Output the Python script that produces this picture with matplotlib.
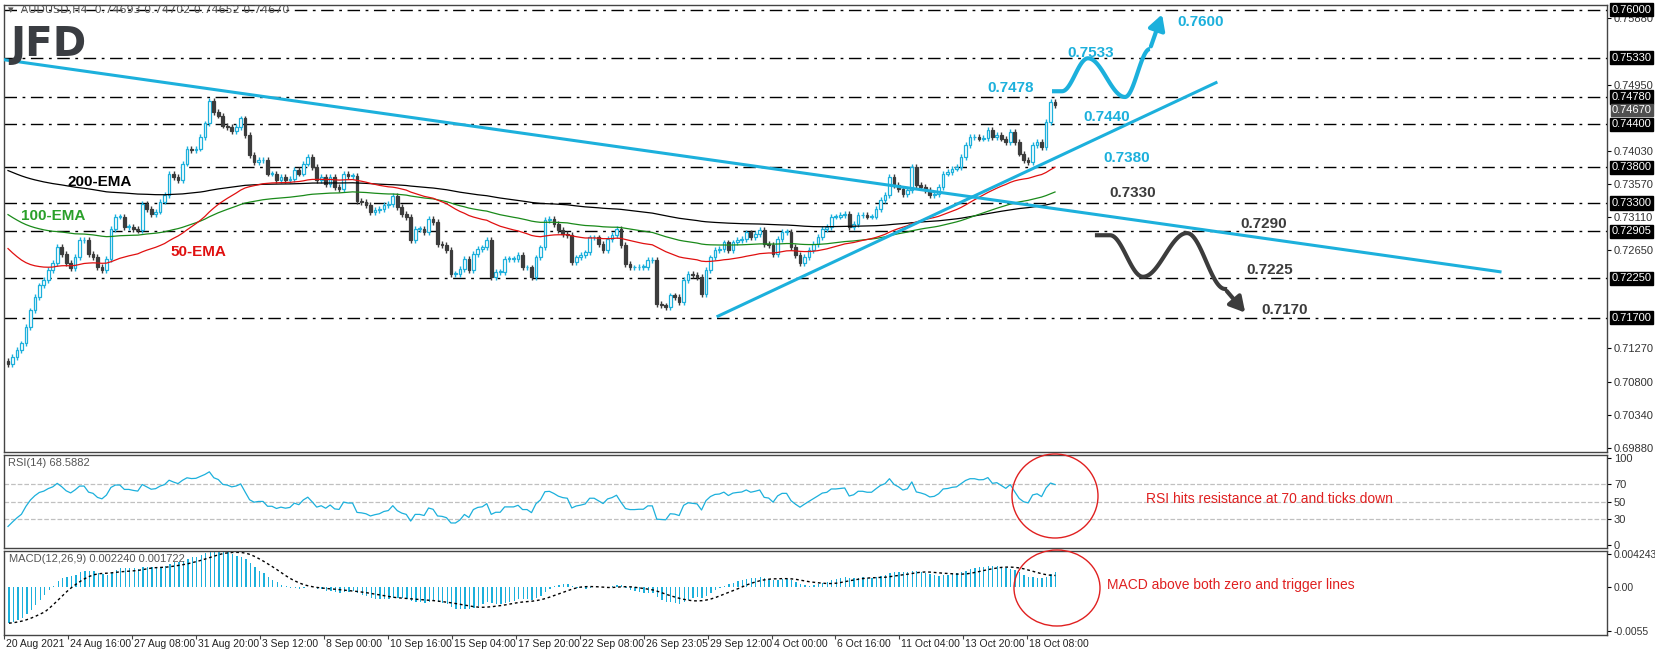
import numpy as np
import pandas as pd
import matplotlib
matplotlib.use('Agg')
import matplotlib.pyplot as plt
from matplotlib.patches import Ellipse, FancyArrowPatch

plt.rcParams['font.family'] = ['Liberation Sans', 'DejaVu Sans']

# H4 closes left to right
closes = [
    0.7105, 0.7115, 0.7125, 0.7134, 0.7157, 0.7180, 0.7199, 0.7215, 0.7222, 0.7236,
    0.7246, 0.7269, 0.7259, 0.7246, 0.7239, 0.7255, 0.7278, 0.7278, 0.7259, 0.7255,
    0.7241, 0.7236, 0.7252, 0.7294, 0.7311, 0.7311, 0.7297, 0.7297, 0.7294, 0.7292,
    0.7329, 0.7322, 0.7315, 0.7318, 0.7332, 0.7341, 0.7371, 0.7366, 0.7362, 0.7385,
    0.7406, 0.7404, 0.7406, 0.7422, 0.7441, 0.7473, 0.7457, 0.7452, 0.7438, 0.7436,
    0.7431, 0.7436, 0.7448, 0.7425, 0.7397, 0.7387, 0.7390, 0.7390, 0.7371, 0.7371,
    0.7362, 0.7366, 0.7362, 0.7364, 0.7376, 0.7371, 0.7385, 0.7394, 0.7380, 0.7362,
    0.7366,
    0.7357, 0.7366, 0.7352, 0.7350, 0.7371, 0.7368, 0.7368, 0.7333, 0.7331, 0.7327,
    0.7317, 0.7320, 0.7322, 0.7327, 0.7329, 0.7340, 0.7324, 0.7315, 0.7310, 0.7278,
    0.7294, 0.7294, 0.7289, 0.7308, 0.7303, 0.7273, 0.7271, 0.7264, 0.7231, 0.7231,
    0.7238, 0.7252, 0.7236, 0.7259, 0.7266, 0.7268, 0.7278, 0.7227, 0.7234, 0.7234,
    0.7252, 0.7252, 0.7252, 0.7257, 0.7240, 0.7240, 0.7227, 0.7254, 0.7268, 0.7306,
    0.7308, 0.7301, 0.7292, 0.7287, 0.7285, 0.7247, 0.7254, 0.7257, 0.7261, 0.7282,
    0.7282, 0.7273, 0.7264, 0.7280, 0.7285, 0.7294, 0.7271, 0.7245, 0.7240, 0.7240,
    0.7241, 0.7241, 0.7250, 0.7250, 0.7189, 0.7187, 0.7185, 0.7201, 0.7199, 0.7192,
    0.7222, 0.7231, 0.7229, 0.7227, 0.7203, 0.7236, 0.7254, 0.7264, 0.7266, 0.7275,
    0.7264, 0.7275, 0.7278, 0.7280, 0.7289,
    0.7283, 0.7287, 0.7292, 0.7273, 0.7271, 0.7259, 0.7280, 0.7290, 0.7290, 0.7269,
    0.7257, 0.7246, 0.7255, 0.7264, 0.7273, 0.7283, 0.7294, 0.7297, 0.7311, 0.7311,
    0.7313, 0.7315, 0.7297, 0.7301, 0.7313, 0.7313, 0.7311, 0.7311, 0.7322, 0.7334,
    0.7341, 0.7366, 0.7355, 0.7350, 0.7343, 0.7348, 0.7380, 0.7355, 0.7352, 0.7348,
    0.7341, 0.7343, 0.7352, 0.7371, 0.7373, 0.7378, 0.7380, 0.7394, 0.7411, 0.7422,
    0.7422, 0.7420, 0.7421, 0.7432, 0.7422, 0.7425, 0.7420, 0.7415, 0.7429, 0.7415,
    0.7399, 0.7390, 0.7387, 0.7411, 0.7415, 0.7408, 0.7443, 0.7471, 0.7467,
]
first_open = 0.7110

# indicator starting values read at the left edge
ema_seeds = {50: 0.7273, 100: 0.7318, 200: 0.7378}
macd_seeds = {12: 0.7148, 26: 0.7193}
rsi_seed_gain, rsi_seed_loss = 0.00025, 0.0009

date_labels = ['20 Aug 2021', '24 Aug 16:00', '27 Aug 08:00', '31 Aug 20:00', '3 Sep 12:00',
               '8 Sep 00:00', '10 Sep 16:00', '15 Sep 04:00', '17 Sep 20:00', '22 Sep 08:00',
               '26 Sep 23:05', '29 Sep 12:00', '4 Oct 00:00', '6 Oct 16:00', '11 Oct 04:00',
               '13 Oct 20:00', '18 Oct 08:00']

levels = [0.7600, 0.7533, 0.7478, 0.7440, 0.7380, 0.7330, 0.72905, 0.7225, 0.7170]
level_boxes = ['0.76000', '0.75330', '0.74780', '0.74400', '0.73800', '0.73300', '0.72905', '0.72250', '0.71700']
price_ticks = [0.7588, 0.7495, 0.7403, 0.7357, 0.7311, 0.7265,
               0.7127, 0.7080, 0.7034, 0.6988]

BLUE = '#1cb0dc'
DARK = '#3c3c3c'
W, H = 1655, 656


def ema(values, n, seed):
    a = 2.0 / (n + 1)
    out, e = [], seed
    for v in values:
        e = e + a * (v - e)
        out.append(e)
    return np.array(out)


c = np.array(closes)
o = np.concatenate([[first_open], c[:-1]])
hi = np.maximum(o, c) + 0.0004
lo = np.minimum(o, c) - 0.0004
n = len(c)

# x axis in screen pixels: first bar at 8, last bar at 1055
x = np.linspace(8, 1055, n)
bw = (x[1] - x[0]) * 0.6

ema50 = ema(c, 50, ema_seeds[50])
ema100 = ema(c, 100, ema_seeds[100])
ema200 = ema(c, 200, ema_seeds[200])

# Wilder RSI(14)
diff = np.diff(np.concatenate([[first_open], c]))
g, l, rsi = rsi_seed_gain, rsi_seed_loss, []
for d in diff:
    g = (g * 13 + max(d, 0)) / 14
    l = (l * 13 + max(-d, 0)) / 14
    rsi.append(100 - 100 / (1 + g / l))
rsi = np.array(rsi)

macd = ema(c, 12, macd_seeds[12]) - ema(c, 26, macd_seeds[26])
signal = pd.Series(macd).rolling(9, min_periods=1).mean().values

fig = plt.figure(figsize=(W / 100, H / 100), dpi=100)


def axes_px(top, bottom):
    return fig.add_axes([4 / W, 1 - bottom / H, (1607 - 4) / W, (bottom - top) / H])


ax = axes_px(5, 452)
ax_rsi = axes_px(455, 548)
ax_macd = axes_px(551, 635)

for a in (ax, ax_rsi, ax_macd):
    a.set_xlim(4, 1607)
    a.yaxis.tick_right()
    a.tick_params(axis='y', labelsize=8, labelcolor='#333333', length=3, pad=2)
    a.tick_params(axis='x', length=0, labelbottom=False)
    for s in a.spines.values():
        s.set_color('#444444')
        s.set_linewidth(1)

# --- price panel
ax.set_ylim(0.69824, 0.76064)
for lv in levels:
    ax.axhline(lv, color='black', lw=1, dashes=(9, 4, 2, 4))

up = c >= o
ax.vlines(x[up], lo[up], hi[up], color=BLUE, lw=1)
ax.vlines(x[~up], lo[~up], hi[~up], color=DARK, lw=1)
body = np.maximum(np.abs(c - o), 0.00006)
ax.bar(x[up], body[up], bw, bottom=np.minimum(o, c)[up], facecolor='white', edgecolor=BLUE, lw=0.9, zorder=3)
ax.bar(x[~up], body[~up], bw, bottom=np.minimum(o, c)[~up], facecolor=DARK, edgecolor=DARK, lw=0.9, zorder=3)

ax.plot(x, ema200, color='black', lw=0.9, zorder=4)
ax.plot(x, ema100, color='#1a8a1a', lw=0.9, zorder=4)
ax.plot(x, ema50, color='#e01010', lw=0.9, zorder=4)

# trendlines
ax.plot([4, 1500], [0.7530, 0.7234], color=BLUE, lw=2.2, zorder=5)
ax.plot([718, 1216], [0.7172, 0.7498], color=BLUE, lw=2.2, zorder=5)


# scenario waves
def wave(x0, x1, y0, y1, steps=40):
    t = np.linspace(0, 1, steps)
    return x0 + (x1 - x0) * t, y0 + (y1 - y0) * (1 - np.cos(np.pi * t)) / 2


xs, ys = [1052, 1062], [0.7486, 0.7486]
for (a0, a1, b0, b1) in [(1062, 1088, 0.7486, 0.7532), (1088, 1125, 0.7532, 0.7478), (1125, 1150, 0.7478, 0.7545)]:
    wx, wy = wave(a0, a1, b0, b1)
    xs += list(wx); ys += list(wy)
ax.plot(xs, ys, color=BLUE, lw=3, zorder=6, solid_capstyle='butt')
ax.add_patch(FancyArrowPatch((1150, 0.7545), (1163, 0.7597), arrowstyle='-|>,head_length=9,head_width=5',
                             color=BLUE, lw=3, zorder=6))

xs, ys = [1097, 1110], [0.7285, 0.7285]
for (a0, a1, b0, b1) in [(1110, 1143, 0.7285, 0.7227), (1143, 1187, 0.7227, 0.7288), (1187, 1225, 0.7288, 0.7210)]:
    wx, wy = wave(a0, a1, b0, b1)
    xs += list(wx); ys += list(wy)
ax.plot(xs, ys, color=DARK, lw=3, zorder=6)
ax.add_patch(FancyArrowPatch((1225, 0.7210), (1247, 0.7174), arrowstyle='-|>,head_length=9,head_width=5',
                             color=DARK, lw=3, zorder=6))

for txt, xx, yy, col in [('0.7600', 1177, 0.7583, BLUE), ('0.7533', 1067, 0.7540, BLUE),
                         ('0.7478', 987, 0.7491, BLUE), ('0.7440', 1083, 0.7450, BLUE),
                         ('0.7380', 1103, 0.7393, BLUE), ('0.7330', 1109, 0.7344, DARK),
                         ('0.7290', 1240, 0.7300, DARK), ('0.7225', 1246, 0.7237, DARK),
                         ('0.7170', 1261, 0.7181, DARK)]:
    ax.text(xx, yy, txt, color=col, fontsize=11, fontweight='bold', va='center', zorder=7)

ax.text(67, 0.7359, '200-EMA', color='black', fontsize=11, fontweight='bold', va='center')
ax.text(21, 0.7312, '100-EMA', color='#2aa02a', fontsize=11, fontweight='bold', va='center')
ax.text(170, 0.7261, '50-EMA', color='#e01010', fontsize=11, fontweight='bold', va='center')

ax.text(8, 0.7600, '\u25be  AUDUSD,H4  0.74693 0.74702 0.74652 0.74670', fontsize=8,
        color='#555555', va='center', family=['DejaVu Sans'])
fig.text(10 / W, 1 - 56 / H, 'JFD', fontsize=29, fontweight='bold', color='#3a3d42', family=['DejaVu Sans'])

ax.set_yticks(price_ticks)
ax.set_yticklabels([f'{p:.5f}' for p in price_ticks])
for lab, lv in zip(level_boxes, levels):
    ax.text(1.003, lv, lab, transform=ax.get_yaxis_transform(), fontsize=8, color='white',
            va='center', ha='left', bbox=dict(boxstyle='square,pad=0.15', fc='black', ec='black'))
ax.text(1.003, 0.7467, '0.74670', transform=ax.get_yaxis_transform(), fontsize=8, color='white',
        va='top', ha='left', bbox=dict(boxstyle='square,pad=0.1', fc='#505050', ec='#505050'))

# --- RSI panel
ax_rsi.set_ylim(-4, 104)
for lv in (70, 50, 30):
    ax_rsi.axhline(lv, color='#c0c0c0', lw=0.9, ls='--')
ax_rsi.plot(x, rsi, color=BLUE, lw=0.9)
ax_rsi.set_yticks([0, 30, 50, 70, 100])
ax_rsi.text(8, 95, 'RSI(14) 68.5882', fontsize=8, color='#555555', va='center')
ax_rsi.text(1146, 53, 'RSI hits resistance at 70 and ticks down', fontsize=10, color='#e02020', va='center')

# --- MACD panel
ax_macd.set_ylim(-0.0060, 0.0046)
ax_macd.bar(x, macd, bw * 0.5, color=BLUE)
ax_macd.plot(x, signal, color='black', lw=1, ls=(0, (2, 2)))
ax_macd.set_yticks([-0.0055, 0.0, 0.004243])
ax_macd.set_yticklabels(['-0.0055', '0.00', '0.004243'])
ax_macd.tick_params(axis='y', labelsize=7.5)
ax_macd.text(8, 0.0036, 'MACD(12,26,9) 0.002240 0.001722', fontsize=8, color='#555555', va='center')
ax_macd.text(1107, 0.0003, 'MACD above both zero and trigger lines', fontsize=10, color='#e02020', va='center')

# date axis
tick_x = [3 + 64 * k for k in range(len(date_labels))]
ax_macd.set_xticks(tick_x)
ax_macd.tick_params(axis='x', length=3, color='#444444')
for tx, lab in zip(tick_x, date_labels):
    ax_macd.text(tx + 2, -0.0071, lab, fontsize=7.5, color='#222222', va='center', ha='left')

# highlight circles
for cx, cy, rx, ry in [(1055, 496, 43, 42), (1057, 588, 43, 38)]:
    fig.add_artist(Ellipse((cx / W, 1 - cy / H), 2 * rx / W, 2 * ry / H, transform=fig.transFigure,
                           fill=False, ec='#e02020', lw=1))

fig.savefig('out.png', dpi=100)
